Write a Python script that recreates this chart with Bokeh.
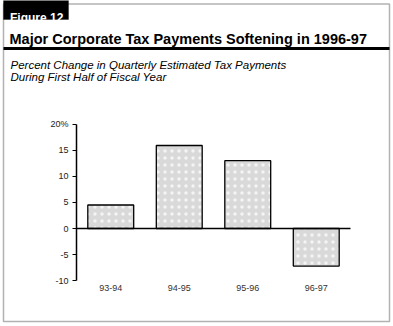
from bokeh.plotting import figure
from bokeh.models import (Range1d, FixedTicker, Label, BoxAnnotation, LinearAxis,
                          ColumnDataSource)
from bokeh.embed import file_html
from bokeh.resources import INLINE

# ---- data ----
years = ["93-94", "94-95", "95-96", "96-97"]
pct_change = [4.5, 15.9, 13.0, -7.2]
y_ticks = [-10, -5, 0, 5, 10, 15, 20]
y_tick_labels = {-10: "-10", -5: "-5", 20: "20%"}
fig_label = "Figure 12"
title = "Major Corporate Tax Payments Softening in 1996-97"
subtitle_1 = "Percent Change in Quarterly Estimated Tax Payments"
subtitle_2 = "During First Half of Fiscal Year"

W, H = 393, 326
FONT = "Liberation Sans"

# layout geometry (pixels on the canvas)
AX_X = 76.0        # canvas x of y-axis
CAT_PX = 68.5      # pixels per category
ZERO_Y = 228.0     # canvas y of value 0
PX_PER_UNIT = 5.22

n = len(years)
x_pos = [i + 0.5 for i in range(n)]

p = figure(width=W, height=H,
           x_range=Range1d(-AX_X / CAT_PX, (W - AX_X) / CAT_PX),
           y_range=Range1d(-(H - ZERO_Y) / PX_PER_UNIT, ZERO_Y / PX_PER_UNIT),
           output_backend="svg", toolbar_location=None,
           x_axis_type=None, y_axis_type=None,
           min_border=0, min_border_left=0, min_border_right=0,
           min_border_top=0, min_border_bottom=0)
p.outline_line_color = None
p.background_fill_color = "white"
p.border_fill_color = "white"
p.grid.visible = False

src = ColumnDataSource(dict(x=x_pos, top=pct_change))
p.vbar(x="x", top="top", bottom=0, width=0.67, source=src,
       fill_color="#d9d9d9", line_color="black", line_width=1.3,
       hatch_pattern="dot", hatch_color="white", hatch_scale=7, hatch_weight=0.5, hatch_alpha=0.7)

# zero line across the categories
p.segment(x0=[0], x1=[n], y0=[0], y1=[0], line_color="black", line_width=1.5)

# y axis (fixed inside the full-canvas frame)
ya = LinearAxis(fixed_location=0, bounds=(min(y_ticks), max(y_ticks)),
                ticker=FixedTicker(ticks=y_ticks))
ya.major_label_overrides = y_tick_labels
ya.axis_line_color = "black"
ya.axis_line_width = 1.5
ya.major_tick_line_color = "black"
ya.major_tick_line_width = 1.2
ya.major_tick_out = 4
ya.major_tick_in = 0
ya.minor_tick_line_color = None
ya.major_label_standoff = 4
ya.major_label_text_font = FONT
ya.major_label_text_font_size = "9px"
ya.major_label_text_color = "#222222"
p.add_layout(ya, "left")

# x axis (labels only)
xa = LinearAxis(fixed_location=min(y_ticks), ticker=FixedTicker(ticks=x_pos))
xa.major_label_overrides = {xp: yr for xp, yr in zip(x_pos, years)}
xa.axis_line_color = None
xa.major_tick_line_color = None
xa.minor_tick_line_color = None
xa.major_tick_out = 0
xa.major_tick_in = 0
xa.major_label_standoff = 4
xa.major_label_text_font = FONT
xa.major_label_text_font_size = "9px"
xa.major_label_text_color = "#333333"
p.add_layout(xa, "below")


def box(l, r, t, b, **kw):
    p.add_layout(BoxAnnotation(left=l, right=r, top=H - t, bottom=H - b,
                               left_units="screen", right_units="screen",
                               top_units="screen", bottom_units="screen", **kw))


# outer frame
box(3, 389, 3.5, 321, fill_color=None, line_color="black", line_width=1.5)
# black tab behind "Figure 12"
box(3, 68, -2, 19, fill_color="black", fill_alpha=1, line_color="black")
# thick rule under title
box(3, 389, 46.5, 49.5, fill_color="black", fill_alpha=1, line_color=None)


def lbl(text, cx, cy, size, style="normal", color="black"):
    p.add_layout(Label(x=cx, y=H - cy, x_units="screen", y_units="screen", text=text,
                       text_font=FONT, text_font_size=size, text_font_style=style,
                       text_color=color, text_baseline="alphabetic", text_align="left"))


lbl(fig_label, 9.5, 17, "12px", "bold", "white")
lbl(title, 9, 38.5, "14.5px", "bold")
lbl(subtitle_1, 10, 64, "11.5px", "italic")
lbl(subtitle_2, 10, 76, "11.5px", "italic")

open("out.html", "w").write(file_html(p, INLINE))
